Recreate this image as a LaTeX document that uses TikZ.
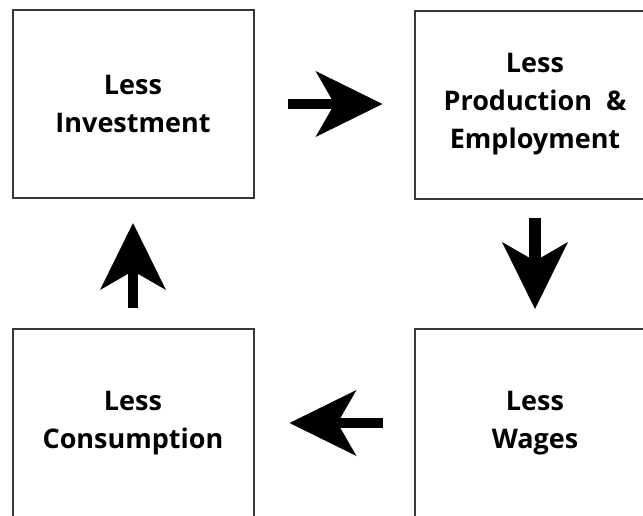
\documentclass[tikz,border=0pt]{standalone}
\usepackage{fontspec}
\setmainfont{Open Sans}
\usetikzlibrary{arrows.meta}
\begin{document}
\begin{tikzpicture}[x=1pt,y=-1pt,
  box/.style={draw=black!78, line width=2pt, minimum width=241pt, minimum height=188pt,
    outer sep=0pt, inner sep=0pt, align=center,
    font=\fontsize{27}{38}\selectfont\bfseries},
  blockarrow/.style={line width=10pt,
    -{Stealth[length=67pt,width=66pt,inset=19pt,line width=0pt]}}]
\clip (0,0) rectangle (643,515);
\fill[white] (0,0) rectangle (643,515);
\node[box] (tl) at (133,104) {Less\\Investment};
\node[box] (tr) at (535,104.5) {Less\\Production \ \&\\Employment};
\node[box] (bl) at (133,423) {Less\\Consumption};
\node[box] (br) at (535,423) {Less\\Wages};
\draw[blockarrow, shorten <=34pt, shorten >=32pt] (tl.east) -- (tl.east -| tr.west);
\draw[blockarrow, line width=12pt, shorten <=19pt, shorten >=20pt] (tr.south) -- (tr.south |- br.north);
\draw[blockarrow, shorten <=32pt, shorten >=36pt] (br.west) -- (br.west -| bl.east);
\draw[blockarrow, shorten <=21pt, shorten >=25pt] (bl.north) -- (bl.north |- tl.south);
\end{tikzpicture}
\end{document}
